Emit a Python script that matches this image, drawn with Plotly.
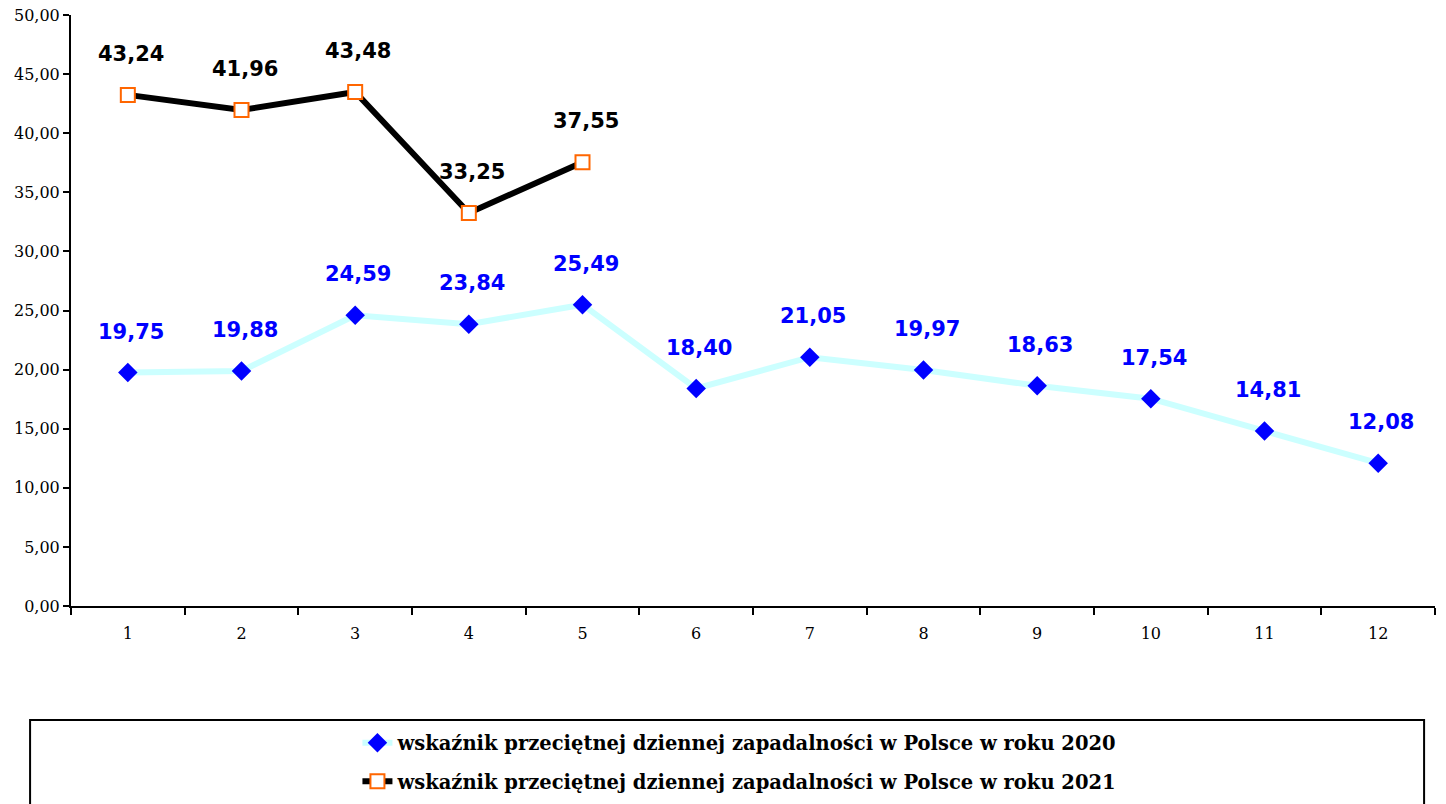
import plotly.graph_objects as go

months = ["1", "2", "3", "4", "5", "6", "7", "8", "9", "10", "11", "12"]
val_2020 = [19.75, 19.88, 24.59, 23.84, 25.49, 18.40, 21.05, 19.97, 18.63, 17.54, 14.81, 12.08]
months_2021 = ["1", "2", "3", "4", "5"]
val_2021 = [43.24, 41.96, 43.48, 33.25, 37.55]
name_2020 = "wskaźnik przeciętnej dziennej zapadalności w Polsce w roku 2020"
name_2021 = "wskaźnik przeciętnej dziennej zapadalności w Polsce w roku 2021"

fig = go.Figure()
fig.add_trace(go.Scatter(
    x=months, y=val_2020, name=name_2020, mode="lines+markers",
    line=dict(color="#CCFFFF", width=6),
    marker=dict(symbol="diamond", size=15, color="#0000FF"),
    legendgroup="a",
))
fig.add_trace(go.Scatter(
    x=months_2021, y=val_2021, name=name_2021, mode="lines+markers",
    line=dict(color="#000000", width=6),
    marker=dict(symbol="square", size=14, color="#FFFFFF",
                line=dict(color="#FF6600", width=2)),
    legendgroup="b",
))

for xs, ys, col in [(months, val_2020, "#0000FF"), (months_2021, val_2021, "#000000")]:
    for i, y in enumerate(ys):
        fig.add_annotation(
            x=i, y=y, text=f"{y:.2f}".replace(".", ","), showarrow=False,
            yshift=41, xshift=3,
            font=dict(family="DejaVu Sans", size=21, color=col, weight="bold"),
        )

fig.add_shape(type="rect", xref="paper", yref="paper",
              x0=-0.030, x1=0.992, y0=-0.36, y1=-0.193,
              line=dict(color="#000000", width=2), fillcolor="rgba(0,0,0,0)")

fig.update_layout(
    width=1446, height=804,
    margin=dict(l=71, r=11, t=15, b=198, autoexpand=False),
    plot_bgcolor="white", paper_bgcolor="white",
    separators=", ",
    showlegend=True,
    legend=dict(
        x=0.210, xanchor="left", y=-0.199, yanchor="top",
        traceorder="grouped", tracegroupgap=10,
        font=dict(family="DejaVu Serif", size=19.5, color="#000000", weight="bold"),
        bgcolor="rgba(0,0,0,0)",
    ),
    xaxis=dict(
        type="category", range=[-0.5, 11.5], tickson="boundaries",
        ticks="outside", ticklen=7, tickwidth=2, tickcolor="#000000",
        showline=True, linecolor="#000000", linewidth=2,
        showgrid=False, zeroline=False, automargin=False,
        tickfont=dict(family="DejaVu Serif", size=16, color="#000000"),
        ticklabelstandoff=12,
    ),
    yaxis=dict(
        range=[0, 50], dtick=5, tickformat=".2f",
        ticks="outside", ticklen=6, tickwidth=2, tickcolor="#000000",
        showline=True, linecolor="#000000", linewidth=2,
        showgrid=False, zeroline=False, automargin=False,
        ticklabeloverflow="allow",
        tickfont=dict(family="DejaVu Serif", size=16, color="#000000"),
    ),
)

fig.write_html("out.html", config={"displayModeBar": False},
               post_script="document.body.style.margin='0';")
